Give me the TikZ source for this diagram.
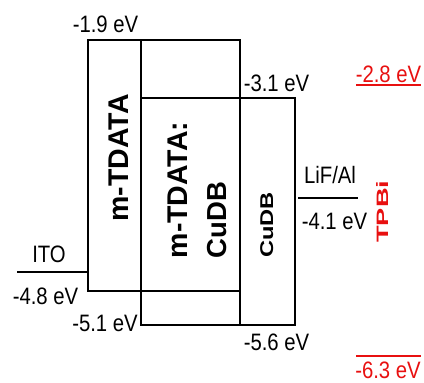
\documentclass[tikz,border=0pt]{standalone}
\usepackage{fontspec}
\setmainfont{Liberation Sans}
\usepackage{graphicx}
\definecolor{tpred}{RGB}{232,16,16}
\newcommand\vstr[1]{\scalebox{1}[1.17]{#1}}
\begin{document}
\begin{tikzpicture}[x=1pt,y=-1pt,
  lvl/.style={line width=2pt, line join=miter, draw=black},
  redlvl/.style={line width=2.4pt, draw=tpred},
  lab/.style={inner sep=0pt, font=\fontsize{20.3}{24}\selectfont},
  rlab/.style={lab, text=tpred},
  vlab/.style={inner sep=0pt, rotate=90, font=\fontsize{28.5}{34}\selectfont\bfseries}]
\useasboundingbox (0,0) rectangle (424,383);
% energy levels
\draw[lvl] (88,40) rectangle (240,291);
\draw[lvl] (141,98) rectangle (295,325);
\draw[lvl] (141,40) -- (141,98);
\draw[lvl] (240,291) -- (240,325);
\draw[lvl] (17,272) -- (88,272);
\draw[lvl] (298,198) -- (358,198);
\draw[redlvl] (356,85) -- (421,85);
\draw[redlvl] (356,356) -- (421,356);
% labels
\node[lab] (n19) at (105.5,24.5) {\vstr{-1.9 eV}};
\node[lab] (n31) at (276.5,83) {\vstr{-3.1 eV}};
\node[rlab] (n28) at (388.5,74) {\vstr{-2.8 eV}};
\node[lab] (lif) at (330,175) {\vstr{LiF/Al}};
\node[lab] (n41) at (334.5,221) {\vstr{-4.1 eV}};
\node[lab] (ito) at (49,254) {\vstr{ITO}};
\node[lab] (n48) at (45.5,296) {\vstr{-4.8 eV}};
\node[lab] (n51) at (105,323) {\vstr{-5.1 eV}};
\node[lab] (n56) at (276.5,342.5) {\vstr{-5.6 eV}};
\node[rlab] (n63) at (388,370) {\vstr{-6.3 eV}};
% layer names
\node[vlab] (mt) at (118.8,158) {m-TDATA};
\node[vlab] (mc1) at (177.5,190) {m-TDATA:};
\node[vlab, font=\fontsize{27.5}{33}\selectfont\bfseries] (mc2) at (217.5,220) {CuDB};
\node[vlab, font=\fontsize{18.5}{22}\selectfont\bfseries] (cu) at (266.7,225) {\scalebox{1.28}[1]{CuDB}};
\node[vlab, text=tpred, font=\fontsize{16.5}{20}\selectfont\bfseries] (tpbi) at (382.5,211.7) {\scalebox{1.65}[1]{TPBi}};
\end{tikzpicture}
\end{document}
